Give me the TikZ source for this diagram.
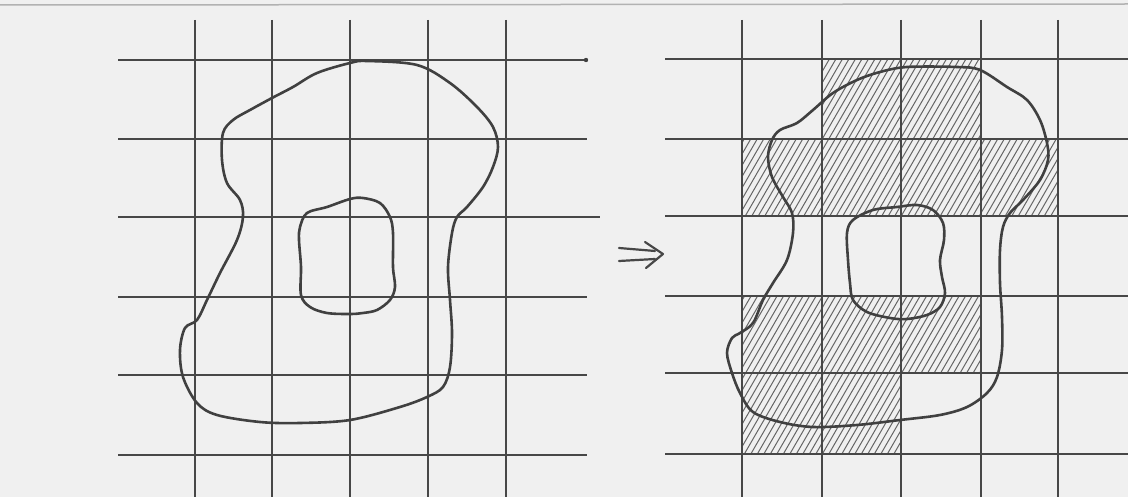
\documentclass[tikz,border=0pt]{standalone}
\begin{document}
\begin{tikzpicture}[x=1pt,y=-1pt,
  gridline/.style={draw=black!72,line width=1.6pt},
  blob/.style={draw=black!75,line width=2.6pt,line join=round},
  hatchline/.style={draw=black!60,line width=1pt},
  arrowline/.style={draw=black!72,line width=2.2pt,line cap=round,line join=round}]
\useasboundingbox (0,0) rectangle (1128,497);
\fill[black!6] (0,0) rectangle (1128,497);
\draw[black!30,line width=1.5pt] (0,5) -- (1128,4);
% hatching (right)
\begin{scope}
\clip (822,59) rectangle (981,139)
      (742,139) rectangle (1058,216)
      (742,296) rectangle (981,373)
      (742,373) rectangle (901,454);
\foreach \s in {440,446.5,...,1070} \draw[hatchline] (\s,497) -- ++(287,-497);
\end{scope}
% left grid
\foreach \x in {195,272,350,428,506} \draw[gridline] (\x,20) -- (\x,497);
\foreach \y in {60,139,297,375,455} \draw[gridline] (118,\y) -- (587,\y);
\draw[gridline] (118,217) -- (600,217);
\fill[black!75] (586,60) circle (2.2pt);
% right grid
\foreach \x in {742,822,901,981,1058} \draw[gridline] (\x,20) -- (\x,497);
\foreach \y in {59,139,216,296,373,454} \draw[gridline] (665,\y) -- (1128,\y);
% left blobs
\draw[blob] plot[smooth cycle,tension=0.55] coordinates {
 (350,63) (367,61) (417,65) (450,83) (477,107) (493,127) (498,147) (493,167)
 (483,187) (467,207) (457,217) (452,233) (448,267) (450,300) (452,333) (450,367)
 (443,387) (427,397) (400,407) (350,420) (300,423) (260,422) (217,415) (197,403)
 (183,377) (180,350) (185,328) (197,320) (207,300) (220,273) (237,240) (243,217)
 (240,200) (227,183) (222,160) (223,133) (233,120) (250,110) (272,98) (293,87) (317,73)};
\draw[blob] plot[smooth cycle,tension=0.55] coordinates {
 (300,227) (307,213) (327,207) (350,199) (363,198) (380,203) (390,217) (393,233)
 (393,267) (395,287) (390,300) (377,310) (363,313) (350,314) (327,313) (310,307)
 (301,295) (301,267) (299,240)};
% right blobs
\draw[blob] plot[smooth cycle,tension=0.55] coordinates {
 (907,67) (957,67) (980,70) (1007,87) (1027,100) (1040,120) (1047,143) (1048,160)
 (1040,180) (1023,200) (1010,213) (1003,227) (1000,250) (1000,283) (1002,317) (1002,350)
 (997,377) (987,393) (967,407) (940,415) (900,420) (857,425) (813,427) (780,422)
 (753,412) (740,393) (732,373) (727,353) (732,338) (740,333) (753,323) (763,300)
 (773,283) (787,260) (793,233) (792,213) (783,197) (772,177) (768,157) (772,140)
 (780,130) (797,123) (813,110) (833,93) (857,80) (880,72)};
\draw[blob] plot[smooth cycle,tension=0.55] coordinates {
 (847,233) (853,220) (873,210) (897,207) (917,205) (933,210) (943,223) (944,240)
 (940,260) (942,277) (945,293) (940,307) (927,315) (907,319) (890,318) (867,312)
 (853,300) (850,283) (848,260)};
% arrow
\coordinate (a1) at (619,248);
\coordinate (a2) at (655,251);
\coordinate (b1) at (619,261);
\coordinate (b2) at (655,259);
\draw[arrowline] (a1) -- (a2);
\draw[arrowline] (b1) -- (b2);
\draw[arrowline] (645,242) -- (663,254) -- (646,268);
\end{tikzpicture}
\end{document}
